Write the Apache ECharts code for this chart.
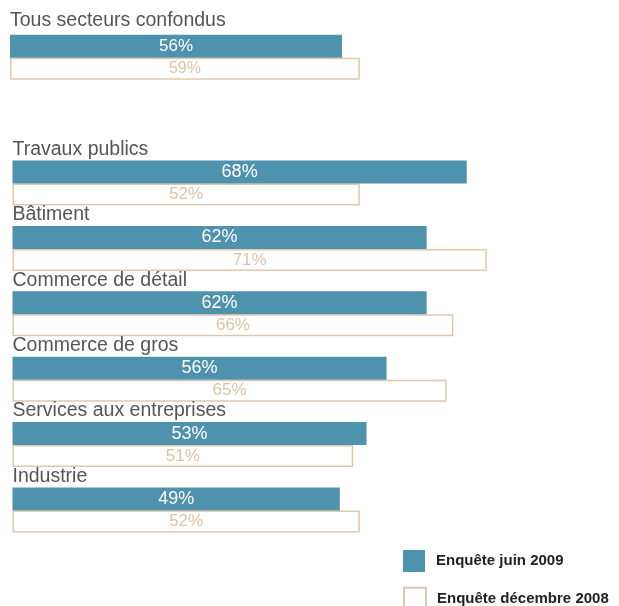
<!DOCTYPE html>
<html>
<head>
<meta charset="utf-8">
<script src="https://cdn.jsdelivr.net/npm/echarts@6/dist/echarts.min.js"></script>
<style>
html,body{margin:0;padding:0;background:#fff;}
#chart{width:619px;height:606px;}
</style>
</head>
<body>
<div id="chart"></div>
<script>
// Data
const totalCategory = ['Tous secteurs confondus'];
const totalJuin2009 = [56];
const totalDec2008 = [59];

const categories = ['Travaux publics', 'Bâtiment', 'Commerce de détail', 'Commerce de gros', 'Services aux entreprises', 'Industrie'];
const juin2009 = [68, 62, 62, 56, 53, 49];
const dec2008 = [52, 71, 66, 65, 51, 52];

const seriesNames = ['Enquête juin 2009', 'Enquête décembre 2008'];

const BLUE = '#4f92ae';
const TAN_BORDER = '#e0c8ab';
const TAN_TEXT = '#dcc4a6';
const FONT = "'Liberation Sans', Arial, Helvetica, sans-serif";

const chart = echarts.init(document.getElementById('chart'), null, {renderer: 'canvas'});

function catAxis(gridIndex, data, padBottom) {
  return {
    type: 'category',
    gridIndex: gridIndex,
    data: data,
    inverse: true,
    z: 10,
    axisLine: {show: false},
    axisTick: {show: false},
    splitLine: {show: false},
    axisLabel: {
      inside: true,
      margin: 0,
      align: 'left',
      verticalAlign: 'middle',
      formatter: function (v) { return '{t|' + v + '}'; },
      rich: {
        t: {
          fontSize: 19.5,
          color: '#555',
          fontFamily: FONT,
          padding: [0, 0, padBottom, 0]
        }
      }
    }
  };
}

function valAxis(gridIndex) {
  return {type: 'value', gridIndex: gridIndex, min: 0, max: 80, show: false};
}

function blueSeries(axisIdx, data, fs) {
  return {
    name: seriesNames[0],
    type: 'bar',
    xAxisIndex: axisIdx,
    yAxisIndex: axisIdx,
    data: data,
    barWidth: 23,
    barGap: '0%',
    z: 3,
    itemStyle: {color: BLUE},
    label: {
      show: true,
      position: 'inside',
      formatter: '{c}%',
      color: '#fff',
      fontSize: fs,
      fontFamily: FONT
    },
    emphasis: {disabled: true},
    animation: false
  };
}

function whiteSeries(axisIdx, data, fs) {
  return {
    name: seriesNames[1],
    type: 'bar',
    xAxisIndex: axisIdx,
    yAxisIndex: axisIdx,
    data: data,
    barWidth: 22,
    barGap: '0%',
    z: 2,
    itemStyle: {color: '#ffffff', borderColor: TAN_BORDER, borderWidth: 1.5},
    label: {
      show: true,
      position: 'inside',
      formatter: '{c}%',
      color: TAN_TEXT,
      fontSize: fs,
      fontFamily: FONT
    },
    emphasis: {disabled: true},
    animation: false
  };
}

function legendFor(name, top) {
  return {
    data: [{name: name, icon: 'rect'}],
    orient: 'vertical',
    left: 403,
    top: top,
    padding: 0,
    itemWidth: 22,
    itemHeight: 22,
    selectedMode: false,
    textStyle: {
      fontSize: 15,
      fontWeight: 'bold',
      color: '#222',
      fontFamily: FONT,
      padding: [0, 0, 0, 6]
    }
  };
}

const option = {
  backgroundColor: '#ffffff',
  animation: false,
  grid: [
    {left: 10, top: 24.3, width: 474.4, height: 66},
    {left: 12.5, top: 150.3, width: 534.4, height: 392.4}
  ],
  xAxis: [valAxis(0), valAxis(1)],
  yAxis: [catAxis(0, totalCategory, 74), catAxis(1, categories, 67)],
  legend: [legendFor(seriesNames[0], 550), legendFor(seriesNames[1], 586.7)],
  series: [
    blueSeries(0, totalJuin2009, 17),
    whiteSeries(0, totalDec2008, 16),
    blueSeries(1, juin2009, 18),
    whiteSeries(1, dec2008, 17)
  ]
};

chart.setOption(option);
</script>
</body>
</html>
